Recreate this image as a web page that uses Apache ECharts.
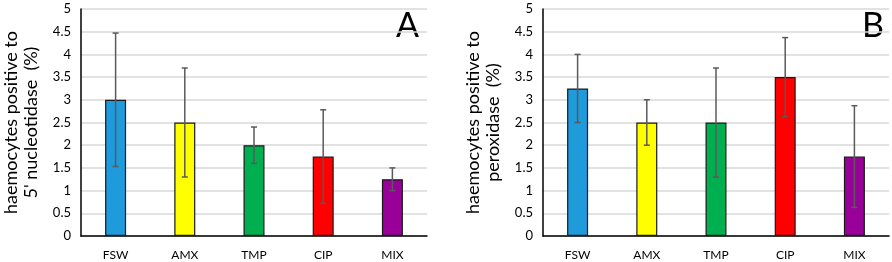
<!DOCTYPE html>
<html>
<head>
<meta charset="utf-8">
<script src="https://cdn.jsdelivr.net/npm/echarts@6/dist/echarts.min.js"></script>
<style>
  html, body { margin: 0; padding: 0; background: #fff; }
  #chart { width: 892px; height: 262px; }
</style>
</head>
<body>
<div id="chart"></div>
<script>
// groups
var categories = ['FSW', 'AMX', 'TMP', 'CIP', 'MIX'];
var barColors = ['#1f9bdc', '#ffff00', '#00b050', '#ff0000', '#990099'];

// panel A: 5' nucleotidase
var meanA = [3.0, 2.5, 2.0, 1.75, 1.25];
var lowA  = [1.53, 1.3, 1.6, 0.72, 1.0];
var highA = [4.47, 3.7, 2.4, 2.78, 1.5];

// panel B: peroxidase
var meanB = [3.25, 2.5, 2.5, 3.5, 1.75];
var lowB  = [2.5, 2.0, 1.3, 2.63, 0.63];
var highB = [4.0, 3.0, 3.7, 4.37, 2.87];

var yTicks = [0, 0.5, 1, 1.5, 2, 2.5, 3, 3.5, 4, 4.5, 5];

var font = 'Lato';

function errorRender(params, api) {
    var top = api.coord([api.value(0), api.value(2)]);
    var bot = api.coord([api.value(0), api.value(1)]);
    var w = 3;
    var st = { stroke: '#5a5a5a', lineWidth: 1.5 };
    return {
        type: 'group',
        children: [
            { type: 'line', shape: { x1: top[0], y1: top[1], x2: bot[0], y2: bot[1] }, style: st },
            { type: 'line', shape: { x1: top[0] - w, y1: top[1], x2: top[0] + w, y2: top[1] }, style: st },
            { type: 'line', shape: { x1: bot[0] - w, y1: bot[1], x2: bot[0] + w, y2: bot[1] }, style: st }
        ]
    };
}

function barData(vals) {
    return vals.map(function (v, i) {
        return { value: v, itemStyle: { color: barColors[i] } };
    });
}

function errData(lo, hi) {
    return lo.map(function (v, i) { return [i, v, hi[i]]; });
}

function xAx(idx) {
    return {
        type: 'category', gridIndex: idx, data: categories,
        axisLine: { lineStyle: { color: '#000', width: 1.5 } },
        axisTick: { show: false },
        axisLabel: { color: '#000', fontFamily: font, fontSize: 12, margin: 13 }
    };
}

function yAx(idx, name) {
    return {
        type: 'value', gridIndex: idx, min: 0, max: 5, interval: 0.5,
        name: name, nameLocation: 'middle', nameRotate: 90, nameGap: 40,
        nameTextStyle: { color: '#000', fontFamily: font, fontSize: 18, lineHeight: 20 },
        axisLine: { show: true, lineStyle: { color: '#000', width: 1.5 } },
        axisTick: { show: false },
        splitLine: { lineStyle: { color: '#d9d9d9', width: 1.5 } },
        axisLabel: {
            color: '#000', fontFamily: font, fontSize: 13, margin: 10,
            formatter: function (v) { return yTicks.indexOf(v) >= 0 ? String(v) : ''; }
        }
    };
}

var myChart = echarts.init(document.getElementById('chart'));

var option = {
    animation: false,
    grid: [
        { left: 80, right: 465, top: 9, bottom: 26 },
        { left: 543, right: 3, top: 9, bottom: 26 }
    ],
    xAxis: [xAx(0), xAx(1)],
    yAxis: [
        yAx(0, 'haemocytes positive to\n5\' nucleotidase  (%)'),
        yAx(1, 'haemocytes positive to\nperoxidase  (%)')
    ],
    graphic: [
        { type: 'text', left: 396, top: 9, style: { text: 'A', font: '34px Lato', fill: '#000' } },
        { type: 'text', left: 862, top: 9, style: { text: 'B', font: '34px Lato', fill: '#000' } }
    ],
    series: [
        {
            type: 'bar', xAxisIndex: 0, yAxisIndex: 0, barWidth: 21,
            itemStyle: { borderColor: '#1a1a1a', borderWidth: 1.2 },
            data: barData(meanA)
        },
        {
            type: 'custom', xAxisIndex: 0, yAxisIndex: 0, renderItem: errorRender,
            encode: { x: 0, y: [1, 2] }, data: errData(lowA, highA), z: 5
        },
        {
            type: 'bar', xAxisIndex: 1, yAxisIndex: 1, barWidth: 21,
            itemStyle: { borderColor: '#1a1a1a', borderWidth: 1.2 },
            data: barData(meanB)
        },
        {
            type: 'custom', xAxisIndex: 1, yAxisIndex: 1, renderItem: errorRender,
            encode: { x: 0, y: [1, 2] }, data: errData(lowB, highB), z: 5
        }
    ]
};

myChart.setOption(option);
</script>
</body>
</html>
